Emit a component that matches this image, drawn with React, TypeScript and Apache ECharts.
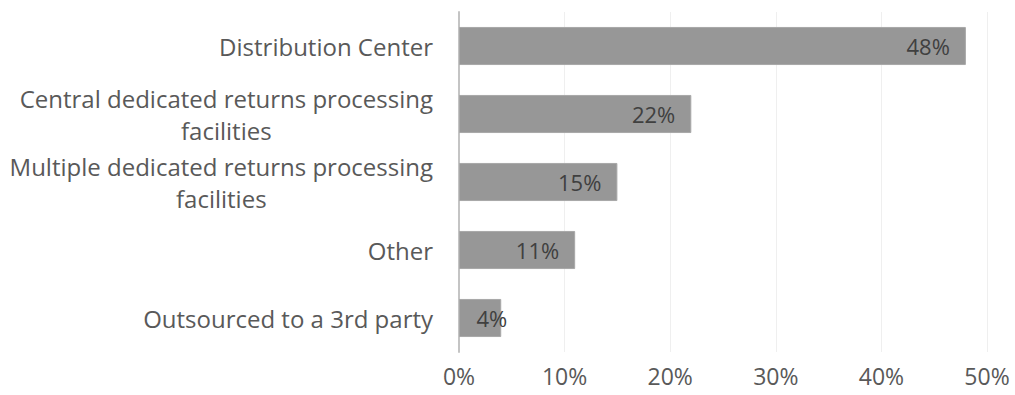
import React, { useEffect, useRef } from "react";
import * as echarts from "echarts";

const categories = [
  "Distribution Center",
  "Central dedicated returns processing\nfacilities",
  "Multiple dedicated returns processing\nfacilities",
  "Other",
  "Outsourced to a 3rd party",
];
const values = [48, 22, 15, 11, 4];
const xTicks = [0, 10, 20, 30, 40, 50];

const FONT = "'Open Sans', 'Noto Sans', sans-serif";

export default function App() {
  const ref = useRef<HTMLDivElement>(null);
  useEffect(() => {
    if (!ref.current) return;
    const chart = echarts.init(ref.current, undefined, { renderer: "svg" });
    chart.setOption({
      animation: false,
      backgroundColor: "#ffffff",
      grid: { left: 459, right: 28, top: 12, bottom: 43, containLabel: false },
      xAxis: {
        type: "value",
        min: xTicks[0],
        max: xTicks[xTicks.length - 1],
        interval: 10,
        axisLine: { show: false },
        axisTick: { show: false },
        splitLine: { show: true, lineStyle: { color: "#efefef", width: 1 } },
        axisLabel: {
          formatter: (v: number) => `${v}%`,
          color: "#595959",
          fontSize: 23,
          fontFamily: FONT,
          lineHeight: 18,
          margin: 15,
        },
      },
      yAxis: {
        type: "category",
        data: categories,
        inverse: true,
        axisLine: { show: true, lineStyle: { color: "#c4c4c4", width: 2 } },
        axisTick: { show: false },
        axisLabel: {
          margin: 26,
          color: "#595959",
          fontSize: 24,
          fontFamily: FONT,
          lineHeight: 32,
          formatter: (v: string) =>
            v
              .split("\n")
              .map((s) => `{c|${s}}`)
              .join("\n"),
          rich: {
            c: {
              align: "center",
              color: "#595959",
              fontSize: 24,
              fontFamily: FONT,
              lineHeight: 32,
            },
          },
        },
      },
      series: [
        {
          type: "bar",
          data: values.map((v) =>
            v < 6
              ? { value: v, label: { position: "insideRight", distance: -6 } }
              : v
          ),
          barCategoryGap: "44%",
          itemStyle: { color: "#979797", borderColor: "#a8a8a8", borderWidth: 1 },
          label: {
            show: true,
            position: "insideRight",
            distance: 16,
            formatter: (p: any) => `${p.value}%`,
            color: "#404040",
            fontSize: 22,
            fontFamily: FONT,
          },
        },
      ],
    });
    return () => chart.dispose();
  }, []);
  return (
    <div
      ref={ref}
      style={{ position: "fixed", left: 0, top: 0, width: 1015, height: 395 }}
    />
  );
}
